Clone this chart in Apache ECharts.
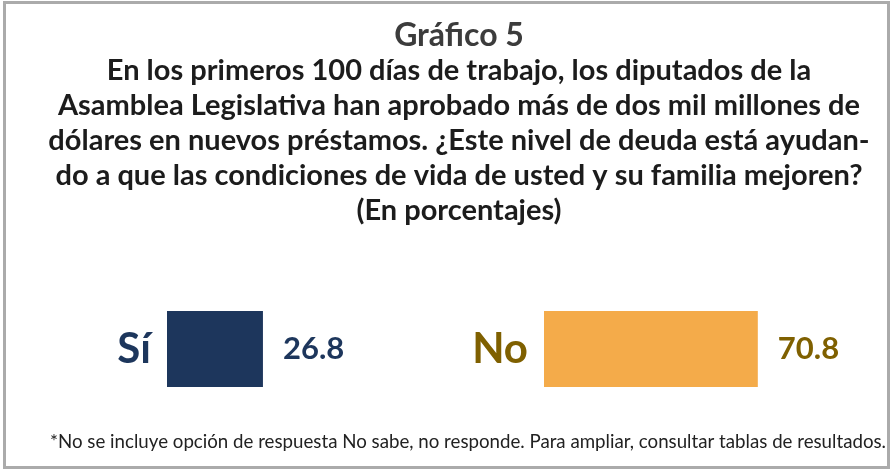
<!DOCTYPE html>
<html><head><meta charset="utf-8">
<script src="https://cdn.jsdelivr.net/npm/echarts@6/dist/echarts.min.js"></script>
<style>html,body{margin:0;padding:0;background:#fff}#c{width:892px;height:470px}</style>
</head><body><div id="c"></div>
<script>
const categories = ['Sí', 'No'];
const values = [26.8, 70.8];
const titleLines = [
  'En los primeros 100 días de trabajo, los diputados de la',
  'Asamblea Legislativa han aprobado más de dos mil millones de',
  'dólares en nuevos préstamos. ¿Este nivel de deuda está ayudan-',
  'do a que las condiciones de vida de usted y su familia mejoren?',
  '(En porcentajes)'
];
const footnote = '*No se incluye opción de respuesta No sabe, no responde. Para ampliar, consultar tablas de resultados.';

const barColors = ['#1D365C', '#F4AB4A'];
const labelColors = ['#1D365C', '#7F6000'];
const grids = [
  {left: 167, width: 358, top: 311, height: 76},
  {left: 544, width: 302, top: 311, height: 76}
];

const chart = echarts.init(document.getElementById('c'));
const F = 'Lato, "Noto Sans", sans-serif';
chart.setOption({
  animation: false,
  backgroundColor: '#fff',
  graphic: [
    {type: 'rect', shape: {x: 4.5, y: 2.5, width: 884, height: 465}, style: {fill: 'none', stroke: '#ababab', lineWidth: 3}, z: 100},
    {type: 'text', x: 459, y: 20, style: {text: 'Gráfico 5', font: 'bold 32px ' + F, fill: '#3c3c3c', textAlign: 'center', textVerticalAlign: 'top'}},
    {type: 'text', x: 459, y: 53, style: {text: titleLines.join('\n'), font: 'bold 29px ' + F, lineHeight: 35, fill: '#1c1c1c', textAlign: 'center', textVerticalAlign: 'top'}},
    {type: 'text', x: 886, y: 432, style: {text: footnote, font: '18.7px ' + F, fill: '#222', textAlign: 'right', textVerticalAlign: 'top'}}
  ],
  grid: grids.map(g => Object.assign({containLabel: false}, g)),
  xAxis: grids.map((g, i) => ({type: 'value', gridIndex: i, min: 0, max: 100, show: false})),
  yAxis: grids.map((g, i) => ({
    type: 'category', gridIndex: i, data: [categories[i]],
    axisLine: {show: false}, axisTick: {show: false}, splitLine: {show: false},
    axisLabel: {margin: 16, color: labelColors[i], fontFamily: F, fontWeight: 'bold', fontSize: 42}
  })),
  series: values.map((v, i) => ({
    type: 'bar', xAxisIndex: i, yAxisIndex: i, data: [v], barWidth: 76,
    itemStyle: {color: barColors[i]},
    label: {show: true, position: 'right', distance: 20, color: labelColors[i], fontFamily: F, fontWeight: 'bold', fontSize: 31,
      formatter: p => p.value.toFixed(1)}
  }))
});
</script></body></html>
